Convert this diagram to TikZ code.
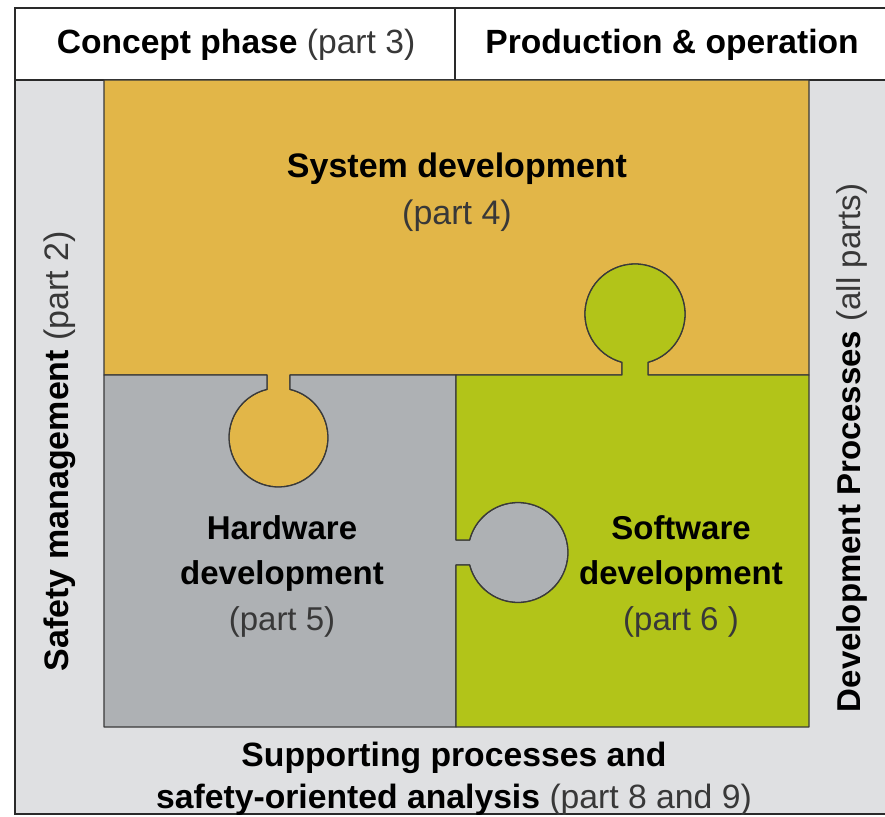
\documentclass[tikz,border=0pt]{standalone}
\usepackage{fontspec}
\setmainfont{Liberation Sans}
\definecolor{sysY}{HTML}{E2B648}
\definecolor{swG}{HTML}{B2C419}
\definecolor{hwG}{HTML}{AEB1B4}
\definecolor{bgG}{HTML}{DFE0E2}
\definecolor{edge}{HTML}{3A3A3A}
\definecolor{framec}{HTML}{2A2A2A}
\definecolor{txtgray}{HTML}{383838}
\newcommand{\pt}[1]{{\mdseries\color{txtgray}#1}}
\begin{document}
\begin{tikzpicture}[x=1pt,y=1pt,yscale=-1,
  piece/.style={draw=edge,line width=1.3pt,line join=round},
  frameline/.style={draw=framec,line width=1.6pt},
  lbl/.style={inner sep=0pt,align=center,font=\bfseries},
]
\useasboundingbox (0,0) rectangle (885,816);
\fill[white] (0,0) rectangle (885,816);
\begin{scope}
\clip (0,0) rectangle (885,816);
\fill[bgG] (15,80) rectangle (895,814);
\fill[white] (15,8) rectangle (895,80);
\draw[frameline] (895,8) -- (15,8) -- (15,814) -- (895,814);
\draw[frameline] (15,80) -- (895,80);
\draw[frameline] (455,8) -- (455,80);
\end{scope}

% system piece
\path[piece, fill=sysY] (104,80) -- (809,80) -- (809,375) -- (648,375) -- (648,362.28)
  arc[start angle=74.93, end angle=-254.93, radius=50] -- (622,375) -- (290,375) -- (290,389.35)
  arc[start angle=-76.57, end angle=256.57, radius=49.5] -- (267,375) -- (104,375) -- cycle;
% hardware piece
\path[piece, fill=hwG] (104,375) -- (267,375) -- (267,389.35)
  arc[start angle=256.57, end angle=-76.57, radius=49.5] -- (290,375) -- (456,375) -- (456,540) -- (469.59,540)
  arc[start angle=-165.52, end angle=165.52, radius=50] -- (456,565) -- (456,727) -- (104,727) -- cycle;
% software piece
\path[piece, fill=swG] (456,375) -- (622,375) -- (622,362.28)
  arc[start angle=105.07, end angle=434.93, radius=50] -- (648,375) -- (809,375) -- (809,727) -- (456,727) -- (456,565) -- (469.59,565)
  arc[start angle=165.52, end angle=-165.52, radius=50] -- (456,540) -- cycle;

\node[lbl, font=\fontsize{33.6}{38}\selectfont\bfseries] (concept) at (236,45) {Concept phase \pt{(part 3)}};
\node[lbl, font=\fontsize{33.6}{38}\selectfont\bfseries] (prod) at (672,45) {Production \& operation};

\node[lbl, font=\fontsize{34}{47}\selectfont\bfseries] (sys) at (457,192) {System development\\\pt{(part 4)}};
\node[lbl, font=\fontsize{33}{45.5}\selectfont\bfseries] (hw) at (282,576) {Hardware\\development\\\pt{(part 5)}};
\node[lbl, font=\fontsize{33}{45.5}\selectfont\bfseries] (sw) at (681,576) {Software\\development\\\pt{(part 6 )}};

\node[lbl, rotate=90, font=\fontsize{34}{40}\selectfont\bfseries] (safety) at (60,451) {Safety management \pt{(part 2)}};
\node[lbl, rotate=90, font=\fontsize{33}{40}\selectfont\bfseries] (devproc) at (852,448) {Development Processes \pt{(all parts)}};

\node[lbl, font=\fontsize{33.7}{42}\selectfont\bfseries] (support) at (454,779) {Supporting processes and\\safety-oriented analysis \pt{(part 8 and 9)}};
\end{tikzpicture}
\end{document}
